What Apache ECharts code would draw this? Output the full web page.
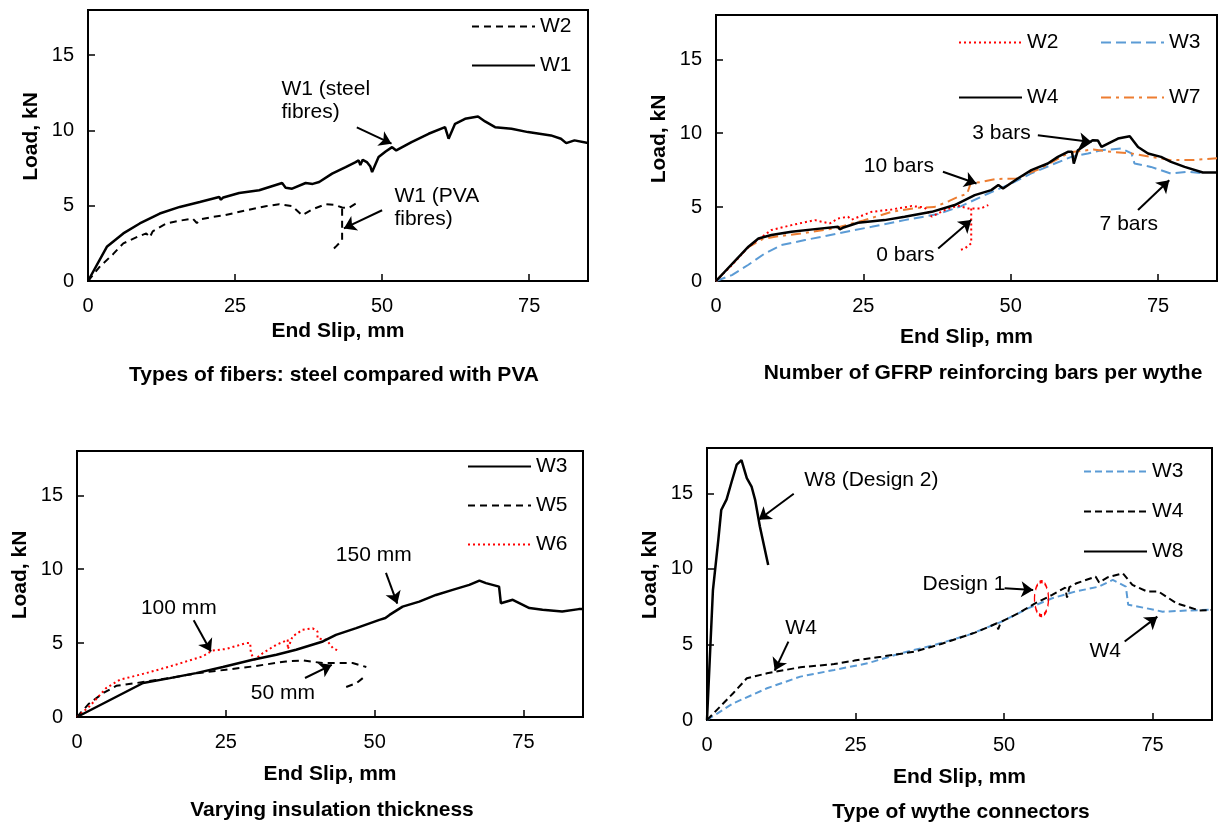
<!DOCTYPE html>
<html>
<head>
<meta charset="utf-8">
<script src="https://cdn.jsdelivr.net/npm/echarts@6/dist/echarts.min.js"></script>
<style>
  html, body { margin: 0; background: #fff; }
  #chart { width: 1222px; height: 827px; }
</style>
</head>
<body>
<div id="chart"></div>
<script>
// axes shared by the four panels
const slipTicks = [0, 25, 50, 75];
const loadTicks = [0, 5, 10, 15];
const slipMax = 85;
const loadMax = 18;
const GAP = ['-', '-'];

// panel 1: types of fibres
const fibreW1 = [[0,0],[3.2,2.27],[6.0,3.16],[8.8,3.82],[12.2,4.48],[15.6,4.92],[19.0,5.25],[22.3,5.58],[22.6,5.4],[23.0,5.55],
  [25.7,5.85],[29.1,6.03],[33.0,6.51],[33.6,6.2],[34.7,6.13],[37.0,6.51],[38.2,6.45],[39.3,6.58],[41.5,7.13],[43.8,7.57],
  [45.5,7.9],[46.0,8.01],[46.3,7.7],[46.7,8.05],[47.4,7.9],[48.0,7.6],[48.3,7.24],[48.6,7.3],[49.4,8.23],[50.6,8.6],
  [51.7,8.89],[52.4,8.67],[55.0,9.23],[57.9,9.78],[60.7,10.22],[61.3,9.45],[62.4,10.44],[64.1,10.77],[66.3,10.93],
  [67.5,10.6],[69.2,10.22],[72.0,10.11],[74.8,9.89],[78.7,9.67],[80.4,9.45],[81.3,9.16],[82.7,9.34],[85,9.16]];
const fibreW2 = [[0,0],[2.0,0.95],[4.3,1.8],[6.0,2.5],[8.5,2.95],[9.9,3.16],[10.5,2.9],[11.0,3.3],[13.3,3.82],[15.5,4.0],
  [17.8,4.15],[18.5,3.85],[19.2,4.1],[21.2,4.26],[23.0,4.35],[26.9,4.70],[30.2,4.97],[32.5,5.10],[34.7,4.97],[36.4,4.37],
  [38.1,4.75],[40.4,5.10],[42.0,5.05],[43.2,4.88],[44.3,4.85],[45.5,5.14],GAP,[43.2,4.8],[43.2,2.72],[42.1,2.27],[41.5,2.05]];

// panel 2: number of GFRP bars
const barsW2 = [[0,0],[2.5,1.0],[5.5,2.3],[7.5,2.9],[9.4,3.45],[12.8,3.78],[16.8,4.12],[17.5,4.05],[19.3,3.9],[20.7,4.23],
  [22.4,4.35],[23.0,4.15],[26.4,4.68],[29.8,4.84],[33.2,5.07],[35.4,4.98],[36.6,4.35],[38.8,4.8],[41.0,5.1],[42.8,4.91],
  [44.9,4.9],[46.2,5.14],GAP,[43.3,4.9],[43.3,2.55],[42.2,2.2],[41.4,2.1]];
const barsW3 = [[0,0],[2.7,0.4],[5.5,1.1],[8.3,1.87],[11.1,2.43],[15.1,2.77],[20.7,3.22],[26.4,3.67],[32.0,4.12],[37.7,4.53],
  [41.6,5.07],[46.2,5.92],[50.1,6.6],[53.5,7.28],[57.5,7.95],[60.3,8.4],[63.1,8.63],[65.4,8.85],[68.8,8.97],[70.5,8.63],
  [71.0,7.95],[73.8,7.72],[77.2,7.27],[80.1,7.39],[82.9,7.27]];
const barsW4 = [[0,0],[5.5,2.32],[7.2,2.88],[9.4,3.11],[12.8,3.33],[16.8,3.51],[20.7,3.67],[21.0,3.5],[21.5,3.6],[24.1,3.94],
  [28.6,4.12],[32.0,4.35],[36.6,4.68],[40.5,5.14],[43.9,5.81],[46.7,6.15],[47.9,6.49],[48.7,6.26],[51.2,6.94],[53.5,7.5],
  [56.3,7.95],[58.0,8.4],[59.7,8.74],[60.4,8.75],[60.7,7.95],[61.4,8.85],[63.1,9.3],[63.9,9.53],[64.8,9.5],[65.4,9.07],
  [66.5,9.3],[68.2,9.64],[70.2,9.8],[71.6,9.07],[73.3,8.63],[75.5,8.4],[77.2,8.06],[79.5,7.72],[82.6,7.34],[85,7.34]];
const barsW7 = [[0,0],[5.5,2.3],[8.0,2.85],[10.0,3.0],[15.0,3.25],[20.0,3.55],[25.0,4.1],[30.0,4.7],[34.0,4.95],[37.0,5.0],
  [39.5,5.4],[41.1,5.7],[42.6,5.9],[43.2,6.6],[45.0,6.7],[47.5,6.9],[51.0,6.94],[55.0,7.6],[60.0,8.7],[64.0,8.9],
  [67.1,8.74],[70.5,8.63],[73.8,8.4],[77.2,8.18],[80.6,8.18],[85,8.3]];

// panel 3: insulation thickness
const insulW3 = [[0,0],[11.1,2.3],[15.6,2.63],[20.0,2.97],[24.5,3.38],[29.5,3.87],[33.5,4.21],[36.8,4.55],[37.1,4.45],[41.3,5.11],
  [43.5,5.56],[46.9,6.01],[50.8,6.57],[51.8,6.7],[52.5,6.91],[54.7,7.47],[57.5,7.81],[60.3,8.26],[63.1,8.6],[65.9,8.94],
  [67.6,9.23],[68.7,9.06],[70.9,8.82],[71.2,7.7],[73.2,7.93],[76.0,7.37],[78.2,7.25],[81.5,7.14],[84.3,7.3],[85,7.3]];
const insulW5 = [[0,0],[2.0,0.9],[4.4,1.62],[6.6,2.11],[10.0,2.3],[15.0,2.6],[20.0,2.95],[25.0,3.2],[29.5,3.42],[35.1,3.76],
  [37.9,3.83],[41.3,3.65],[46.3,3.65],[48.6,3.38],GAP,[48.0,2.63],[47.0,2.3],[45.2,2.03]];
const insulW6 = [[0,0],[2.1,0.72],[4.9,1.96],[7.2,2.52],[11.6,2.97],[15.6,3.42],[21.1,4.1],[22.8,4.5],[25.0,4.6],[28.4,5.0],
  [29.1,5.0],[29.2,4.32],[29.8,3.87],[31.2,4.32],[33.5,4.89],[35.4,5.22],[35.4,4.59],[36.2,5.45],[37.9,5.9],[39.6,6.0],
  [40.4,5.78],[40.4,5.32],[41.9,5.22],[43.0,4.66],[43.8,4.5]];

// panel 4: type of wythe connectors
const connW3 = [[0,0],[4.4,1.1],[10.1,2.1],[15.7,2.87],[21.4,3.31],[27.0,3.75],[32.7,4.42],[38.3,4.97],[44.0,5.63],[49.6,6.51],
  [54.1,7.4],[58.1,8.06],[62.0,8.5],[66.0,8.83],[68.3,9.27],[70.5,8.83],[70.9,7.62],[73.9,7.4],[76.7,7.17],[80.6,7.24],[85,7.3]];
const connW4 = [[0,0],[2.2,0.88],[4.4,1.77],[6.7,2.76],[10.1,3.09],[15.7,3.49],[21.4,3.7],[24.8,3.93],[29.3,4.19],[34.9,4.52],
  [39.4,5.03],[45.1,5.78],[48.8,6.4],[49.0,6.0],[49.5,6.5],[52.4,7.06],[55.3,7.73],[58.1,8.28],[60.3,8.76],[60.6,8.1],
  [61.0,8.8],[62.2,9.05],[65.4,9.49],[66.0,9.1],[67.5,9.45],[70.0,9.71],[71.6,8.94],[74.1,8.5],[76.0,8.5],[79.0,7.73],
  [82.9,7.24],[85,7.28]];
const connW8 = [[0,0],[1.0,8.6],[1.9,11.9],[2.4,13.9],[3.3,14.6],[4.1,15.7],[5.0,16.9],[5.8,17.2],[6.7,16.0],[7.5,15.45],
  [8.1,14.57],[8.9,12.8],[10.3,10.26]];
const design1Ring = [[56.3, 8.03]];

// annotations: text anchor [x, y, text] and arrows [x1, y1, x2, y2]
const fibreNotes = [[32.8, 11.95, 'W1 (steel\nfibres)'], [52.0, 4.84, 'W1 (PVA\nfibres)']];
const fibreArrows = [[45.7, 10.2, 51.6, 9.12], [50.0, 4.7, 43.5, 3.49]];
const barsNotes = [[43.4, 10.0, '3 bars'], [25.0, 7.8, '10 bars'], [27.1, 1.76, '0 bars'], [65.0, 3.85, '7 bars']];
const barsArrows = [[54.6, 9.86, 63.7, 9.41], [38.5, 7.39, 44.2, 6.6], [37.7, 2.2, 43.3, 4.12], [71.6, 4.8, 76.9, 6.82]];
const insulNotes = [[43.4, 10.97, '150 mm'], [10.65, 7.39, '100 mm'], [29.1, 1.64, '50 mm']];
const insulArrows = [[51.9, 9.75, 53.8, 7.67], [19.6, 6.55, 22.5, 4.43], [38.3, 2.64, 42.8, 3.53]];
const connNotes = [[16.3, 15.85, 'W8 (Design 2)'], [13.1, 6.07, 'W4'], [36.2, 9.0, 'Design 1'], [64.3, 4.52, 'W4']];
const connArrows = [[14.6, 14.97, 8.7, 13.25], [13.7, 5.19, 11.4, 3.27], [50.1, 8.72, 54.9, 8.6], [70.3, 5.19, 75.8, 6.84]];

const FONT = '"Liberation Sans", Arial, sans-serif';
const BLACK = '#000';
const RED = '#ff0000';
const BLUE = '#5b9bd5';
const ORANGE = '#ed7d31';

const panels = [
  { left: 88,  top: 10,  width: 500, height: 271, xGap: 40, title: 'Types of fibers: steel compared with PVA', tx: 334, ty: 375 },
  { left: 716, top: 15,  width: 501, height: 266, xGap: 46, title: 'Number of GFRP reinforcing bars per wythe', tx: 983, ty: 373 },
  { left: 77,  top: 451, width: 506, height: 266, xGap: 47, title: 'Varying insulation thickness', tx: 332, ty: 810 },
  { left: 707, top: 448, width: 505, height: 272, xGap: 47, title: 'Type of wythe connectors', tx: 961, ty: 812 }
];

function line(name, idx, data, color, dash, width) {
  return {
    type: 'line', name: name, xAxisIndex: idx, yAxisIndex: idx, data: data,
    symbol: 'none', showSymbol: false, connectNulls: false, silent: true, z: 3,
    lineStyle: { color: color, type: dash, width: width || 2 },
    itemStyle: { color: color }
  };
}

function notes(idx, list) {
  return {
    type: 'scatter', xAxisIndex: idx, yAxisIndex: idx, symbolSize: 1, silent: true, z: 5,
    itemStyle: { color: 'transparent', opacity: 1 },
    label: { show: true, position: 'right', distance: 0, formatter: '{b}', color: BLACK,
      fontSize: 21, lineHeight: 23, fontFamily: FONT },
    data: list.map(n => ({ name: n[2], value: [n[0], n[1]] }))
  };
}

function arrows(idx, list) {
  return {
    type: 'lines', coordinateSystem: 'cartesian2d', xAxisIndex: idx, yAxisIndex: idx, silent: true, z: 6,
    symbol: ['none', 'arrow'], symbolSize: 12,
    lineStyle: { color: BLACK, width: 2, opacity: 1, curveness: 0 },
    data: list.map(a => ({ coords: [[a[0], a[1]], [a[2], a[3]]] }))
  };
}

function legend(left, top, gap, names) {
  return {
    left: left, top: top, orient: 'vertical', itemGap: gap, itemWidth: 63, itemHeight: 14,
    selectedMode: false, padding: 0, data: names,
    itemStyle: { opacity: 0 },
    formatter: n => n.split('|')[1],
    textStyle: { fontSize: 21, lineHeight: 20, color: BLACK, fontFamily: FONT }
  };
}

const chart = echarts.init(document.getElementById('chart'));
chart.setOption({
  animation: false,
  backgroundColor: '#fff',
  grid: panels.map(p => ({ left: p.left, top: p.top, width: p.width, height: p.height, show: true,
    borderColor: BLACK, borderWidth: 2, backgroundColor: 'transparent' })),
  xAxis: panels.map((p, i) => ({
    type: 'value', gridIndex: i, min: 0, max: slipMax, interval: slipTicks[1] - slipTicks[0],
    name: 'End Slip, mm', nameLocation: 'middle', nameGap: p.xGap,
    nameTextStyle: { fontSize: 21, fontWeight: 'bold', color: BLACK, fontFamily: FONT },
    axisLine: { show: true, onZero: false, lineStyle: { color: BLACK, width: 2 } },
    axisTick: { show: true, inside: true, length: 7, lineStyle: { color: BLACK, width: 1.5 } },
    axisLabel: { fontSize: 20, color: BLACK, margin: 15, fontFamily: FONT, showMaxLabel: false,
      formatter: v => slipTicks.includes(v) ? String(v) : '' },
    splitLine: { show: false }
  })),
  yAxis: panels.map((p, i) => ({
    type: 'value', gridIndex: i, min: 0, max: loadMax, interval: loadTicks[1] - loadTicks[0],
    name: 'Load, kN', nameLocation: 'middle', nameGap: 46,
    nameTextStyle: { fontSize: 21, fontWeight: 'bold', color: BLACK, fontFamily: FONT, padding: [0, 0, 0, 18] },
    axisLine: { show: true, onZero: false, lineStyle: { color: BLACK, width: 2 } },
    axisTick: { show: true, inside: true, length: 7, lineStyle: { color: BLACK, width: 1.5 } },
    axisLabel: { fontSize: 20, color: BLACK, margin: 14, fontFamily: FONT, showMaxLabel: false,
      formatter: v => loadTicks.includes(v) ? String(v) : '' },
    splitLine: { show: false }
  })),
  legend: [
    legend(471, 16, 18, ['a|W2', 'a|W1']),
    legend(958, 32, 34, ['b|W2', 'b|W4']),
    legend(1100, 32, 34, ['b|W3', 'b|W7']),
    legend(467, 456, 18, ['c|W3', 'c|W5', 'c|W6']),
    legend(1083, 461, 19, ['d|W3', 'd|W4', 'd|W8'])
  ],
  graphic: panels.map(p => ({
    type: 'text', x: p.tx, y: p.ty, silent: true,
    style: { text: p.title, font: 'bold 21px ' + FONT, fill: BLACK, align: 'center', verticalAlign: 'middle' }
  })),
  series: [
    line('a|W2', 0, fibreW2, BLACK, [7, 5], 2),
    line('a|W1', 0, fibreW1, BLACK, 'solid', 2.5),
    notes(0, fibreNotes), arrows(0, fibreArrows),

    line('b|W3', 1, barsW3, BLUE, [10, 5], 2),
    line('b|W7', 1, barsW7, ORANGE, [10, 5, 3, 5], 2),
    line('b|W2', 1, barsW2, RED, [2, 3], 2),
    line('b|W4', 1, barsW4, BLACK, 'solid', 2.5),
    notes(1, barsNotes), arrows(1, barsArrows),

    line('c|W5', 2, insulW5, BLACK, [7, 5], 2),
    line('c|W6', 2, insulW6, RED, [2, 3], 2),
    line('c|W3', 2, insulW3, BLACK, 'solid', 2.5),
    notes(2, insulNotes), arrows(2, insulArrows),

    line('d|W3', 3, connW3, BLUE, [7, 4], 2),
    line('d|W4', 3, connW4, BLACK, [7, 4], 2),
    line('d|W8', 3, connW8, BLACK, 'solid', 2.5),
    notes(3, connNotes), arrows(3, connArrows),
    {
      type: 'scatter', xAxisIndex: 3, yAxisIndex: 3, silent: true, z: 6,
      symbol: 'circle', symbolSize: [14, 34], data: design1Ring,
      itemStyle: { color: 'transparent', opacity: 1, borderColor: RED, borderWidth: 2, borderType: [5, 3] }
    }
  ]
});
</script>
</body>
</html>
